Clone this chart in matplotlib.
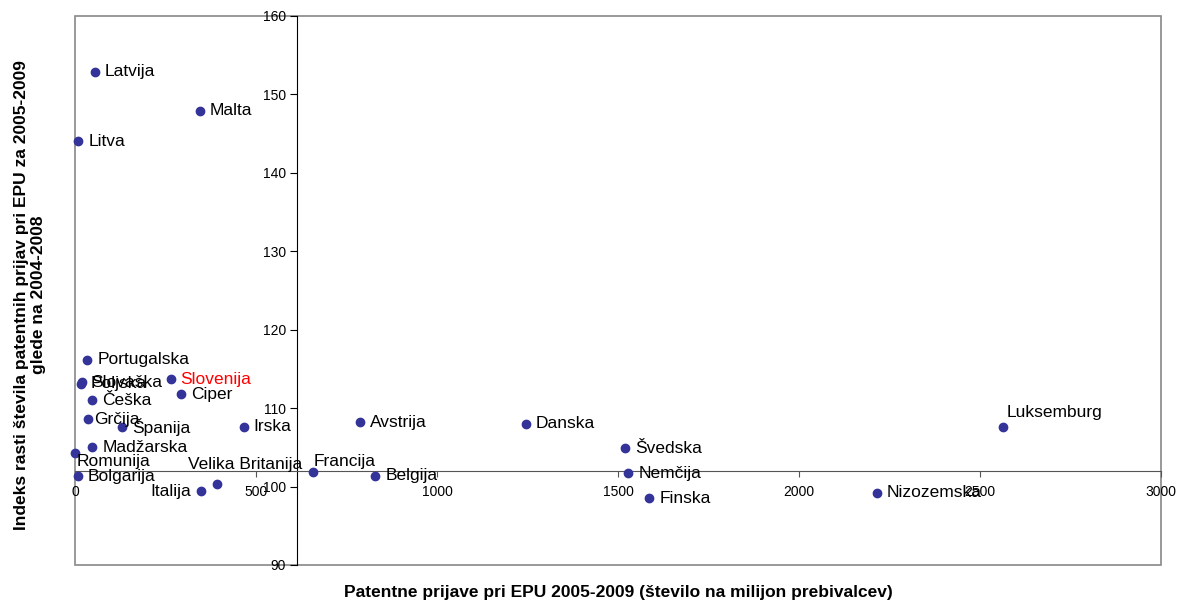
import matplotlib.pyplot as plt
from matplotlib.patches import Rectangle

plt.rcParams['font.family'] = ['Liberation Sans', 'DejaVu Sans']

# data
countries = ['Latvija', 'Malta', 'Litva', 'Portugalska', 'Slovaška', 'Poljska',
             'Slovenija', 'Ciper', 'Češka', 'Grčija', 'Španija', 'Irska',
             'Madžarska', 'Romunija', 'Bolgarija', 'Italija', 'Velika Britanija',
             'Francija', 'Belgija', 'Avstrija', 'Danska', 'Švedska', 'Nemčija',
             'Finska', 'Nizozemska', 'Luksemburg']
patents = [55, 345, 9, 34, 18, 16, 264, 293, 46, 35, 129, 466, 48, 1, 7, 348,
           391, 658, 830, 788, 1246, 1519, 1528, 1586, 2215, 2564]
growth = [152.9, 147.9, 144.0, 116.2, 113.3, 113.1, 113.7, 111.8, 111.0, 108.6,
          107.6, 107.6, 105.0, 104.3, 101.3, 99.4, 100.3, 101.9, 101.4, 108.2,
          108.0, 104.9, 101.7, 98.5, 99.2, 107.6]
eu_patents = 613
eu_growth = 102

xticks = [0, 500, 1000, 1500, 2000, 2500, 3000]
yticks = [90, 100, 110, 120, 130, 140, 150, 160]

# label placement (pixel offsets) where Excel didn't put it right of the dot
label_offsets = {
    'Romunija': (1, -9, 'left'),
    'Velika Britanija': (-29, 20, 'left'),
    'Francija': (0, 10, 'left'),
    'Italija': (-10, 0, 'right'),
    'Luksemburg': (3, 14, 'left'),
    'Grčija': (6, 0, 'left'),
}

fig = plt.figure(figsize=(11.78, 6.03), dpi=100)
fig.set_facecolor('w')
ax = fig.add_axes([75/1178, 38/603, 1086/1178, 549/603])

ax.scatter(patents, growth, s=36, color='#333399', zorder=3, clip_on=False)

for name, x, y in zip(countries, patents, growth):
    dx, dy, ha = label_offsets.get(name, (10, 0, 'left'))
    col = 'red' if name == 'Slovenija' else 'k'
    ax.annotate(name, (x, y), xytext=(dx, dy), textcoords='offset pixels',
                ha=ha, va='center', fontsize=12.5, color=col, zorder=4)

ax.set_xlim(0, 3000)
ax.set_ylim(90, 160)

# axes cross at the EU values
ax.spines['left'].set_position(('data', eu_patents))
ax.spines['bottom'].set_position(('data', eu_growth))
ax.spines['top'].set_visible(False)
ax.spines['right'].set_visible(False)
ax.spines['left'].set_color('k')
ax.spines['bottom'].set_color('#555555')
ax.add_patch(Rectangle((0, 0), 1, 1, transform=ax.transAxes, fill=False,
                       edgecolor='#888888', lw=1.2, zorder=0, clip_on=False))

ax.set_xticks(xticks)
ax.set_yticks(yticks)
ax.tick_params(axis='x', direction='out', length=4, pad=6, labelsize=10, color='#555555')
ax.tick_params(axis='y', direction='out', length=5, pad=3, labelsize=10)

fig.text(618/1178, 1 - 593/603, 'Patentne prijave pri EPU 2005-2009 (število na milijon prebivalcev)',
         ha='center', va='center', fontsize=12.5, fontweight='bold')
fig.text(30/1178, 1 - 295/603,
         'Indeks rasti števila patentnih prijav pri EPU za 2005-2009\nglede na 2004-2008',
         ha='center', va='center', rotation=90, fontsize=12.5, fontweight='bold',
         multialignment='center')

fig.savefig('out.png', dpi=100)
